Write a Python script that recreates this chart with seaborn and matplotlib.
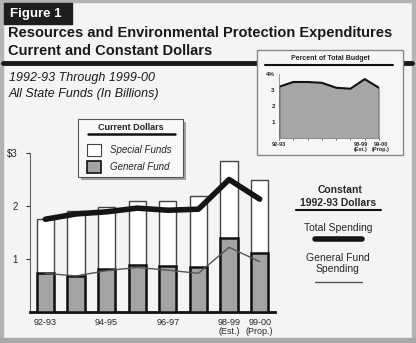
import matplotlib
matplotlib.use("Agg")
import matplotlib.pyplot as plt
import seaborn as sns
import pandas as pd
from matplotlib.patches import Rectangle
from matplotlib.lines import Line2D
from matplotlib.transforms import ScaledTranslation

sns.set_theme(style="white")
plt.rcParams['font.family'] = ['Liberation Sans', 'DejaVu Sans']

# ---- data ----
years = ["92-93", "93-94", "94-95", "95-96", "96-97", "97-98", "98-99", "99-00"]
tick_labels = ["92-93", "", "94-95", "", "96-97", "", "98-99\n(Est.)", "99-00\n(Prop.)"]
total_current = [1.75, 1.90, 1.99, 2.10, 2.10, 2.19, 2.85, 2.50]
general_current = [0.74, 0.68, 0.81, 0.89, 0.87, 0.84, 1.39, 1.11]
total_constant = [1.75, 1.85, 1.89, 1.96, 1.92, 1.94, 2.50, 2.13]
general_constant = [0.73, 0.68, 0.78, 0.84, 0.79, 0.73, 1.22, 0.95]
pct_budget = [3.2, 3.5, 3.5, 3.45, 3.14, 3.08, 3.68, 3.14]
inset_labels = ["92-93", "", "", "", "", "", "98-99\n(Est.)", "99-00\n(Prop.)"]

df = pd.DataFrame({"year": years, "total": total_current, "general": general_current,
                   "tot_c": total_constant, "gen_c": general_constant,
                   "pct": pct_budget, "pos": range(len(years))})

W, H = 416, 343
fig = plt.figure(figsize=(W / 100, H / 100), dpi=100)
fig.patch.set_facecolor("#f4f4f4")

def fx(x):
    return x / W

def fy(y):
    return 1 - y / H

# outer frame
fig.add_artist(Rectangle((0, 0), fx(3), 1, transform=fig.transFigure, color="#b4b4b4", zorder=0))
fig.add_artist(Rectangle((fx(412), 0), fx(4), 1, transform=fig.transFigure, color="#b4b4b4", zorder=0))
fig.add_artist(Rectangle((0, 0), 1, 5 / H, transform=fig.transFigure, color="#a8a8a8", zorder=0))
fig.add_artist(Rectangle((0, fy(2)), 1, 2 / H, transform=fig.transFigure, color="#b4b4b4", zorder=0))

# Figure 1 box
fig.add_artist(Rectangle((fx(4), fy(24)), fx(68), 21 / H, transform=fig.transFigure, color="#1e1e1e", zorder=1))
fig.text(fx(10), fy(14), "Figure 1", color="white", fontsize=9.5, fontweight="bold", va="center", ha="left")

# title
fig.text(fx(8), fy(33), "Resources and Environmental Protection Expenditures", fontsize=10.5,
         fontweight="bold", va="center", ha="left", color="#1a1a1a")
fig.text(fx(8), fy(51), "Current and Constant Dollars", fontsize=10.5,
         fontweight="bold", va="center", ha="left", color="#1a1a1a")
# thick rule
fig.add_artist(Line2D([fx(3), fx(412)], [fy(63), fy(63)], transform=fig.transFigure, color="#1a1a1a", lw=3.5, zorder=1))

# subtitles
fig.text(fx(9), fy(78), "1992-93 Through 1999-00", fontsize=9, style="italic", va="center", ha="left", color="#1a1a1a")
fig.text(fx(9), fy(94), "All State Funds (In Billions)", fontsize=9, style="italic", va="center", ha="left", color="#1a1a1a")

# ---- main axes ----
ax = fig.add_axes([fx(30), fy(312), fx(245), 159 / H])
ax.set_facecolor("none")
sns.barplot(data=df, x="pos", y="total", color="white", edgecolor="#444444", linewidth=1.0,
            width=0.56, ax=ax, order=list(range(len(years))), native_scale=True, zorder=2)
sns.barplot(data=df, x="pos", y="general", color="#a3a3a3", edgecolor="#111111", linewidth=1.8,
            width=0.56, ax=ax, order=list(range(len(years))), native_scale=True, zorder=3)
sns.lineplot(data=df, x="pos", y="tot_c", color="#151515", lw=4, ax=ax, zorder=5)
sns.lineplot(data=df, x="pos", y="gen_c", color="#555555", lw=1.0, ax=ax, zorder=5)
ax.set_xlim(-0.5, 7.5)
ax.set_ylim(0, 3)
ax.set_xticks(range(len(years)))
ax.set_xticklabels(tick_labels, fontsize=6.5, linespacing=1.1)
ax.set_yticks([1, 2, 3])
ax.set_yticklabels(["1", "2", "\\$3"], fontsize=7)
ax.tick_params(axis="y", length=3, width=0.8, color="#333333", pad=6, left=True)
ax.tick_params(axis="x", length=0, pad=4)
ax.set_xlabel("")
ax.set_ylabel("")
for s in ["top", "right"]:
    ax.spines[s].set_visible(False)
ax.spines["left"].set_color("#666666")
ax.spines["left"].set_linewidth(0.8)
ax.spines["bottom"].set_color("#111111")
ax.spines["bottom"].set_linewidth(2)

# ---- Current Dollars legend ----
fig.add_artist(Rectangle((fx(81), fy(180)), fx(105), 58 / H, transform=fig.transFigure,
                         facecolor="#a0a0a0", edgecolor="none", zorder=6))
fig.add_artist(Rectangle((fx(78), fy(177)), fx(105), 58 / H, transform=fig.transFigure,
                         facecolor="#f8f8f8", edgecolor="#555555", lw=0.8, zorder=7))
fig.text(fx(131), fy(127), "Current Dollars", fontsize=6.5, fontweight="bold", ha="center", va="center", zorder=8)
fig.add_artist(Line2D([fx(88), fx(175)], [fy(134), fy(134)], transform=fig.transFigure, color="#111111", lw=1.8, zorder=8))
fig.add_artist(Rectangle((fx(87), fy(156)), fx(14), 12 / H, transform=fig.transFigure,
                         facecolor="white", edgecolor="#444444", lw=0.8, zorder=8))
fig.add_artist(Rectangle((fx(87), fy(173)), fx(14), 12 / H, transform=fig.transFigure,
                         facecolor="#a3a3a3", edgecolor="#111111", lw=1.2, zorder=8))
fig.text(fx(110), fy(150), "Special Funds", fontsize=7, style="italic", ha="left", va="center", zorder=8)
fig.text(fx(110), fy(167), "General Fund", fontsize=7, style="italic", ha="left", va="center", zorder=8)

# ---- Constant dollars legend ----
fig.text(fx(340), fy(190), "Constant", fontsize=7.5, fontweight="bold", ha="center", va="center")
fig.text(fx(338), fy(203), "1992-93 Dollars", fontsize=7.5, fontweight="bold", ha="center", va="center")
fig.add_artist(Line2D([fx(296), fx(381)], [fy(210), fy(210)], transform=fig.transFigure, color="#111111", lw=1.5))
fig.text(fx(338), fy(228), "Total Spending", fontsize=7.5, ha="center", va="center")
fig.add_artist(Line2D([fx(315), fx(362)], [fy(239), fy(239)], transform=fig.transFigure, color="#151515", lw=4))
fig.text(fx(338), fy(258), "General Fund", fontsize=7.5, ha="center", va="center")
fig.text(fx(338), fy(269), "Spending", fontsize=7.5, ha="center", va="center")
fig.add_artist(Line2D([fx(315), fx(362)], [fy(282), fy(282)], transform=fig.transFigure, color="#555555", lw=1.0))

# ---- inset ----
fig.add_artist(Rectangle((fx(257), fy(155)), fx(146), 105 / H, transform=fig.transFigure,
                         facecolor="#f6f6f6", edgecolor="#888888", lw=1.0, zorder=3))
fig.text(fx(330), fy(58), "Percent of Total Budget", fontsize=5, fontweight="bold", ha="center", va="center", zorder=4)
fig.add_artist(Line2D([fx(265), fx(393)], [fy(65), fy(65)], transform=fig.transFigure, color="#111111", lw=1.5, zorder=4))

ax2 = fig.add_axes([fx(279), fy(138), fx(100), 64 / H], zorder=5)
ax2.set_facecolor("none")
ax2.fill_between(df["pos"], 0, df["pct"], color="#a6a6a6", zorder=1)
sns.lineplot(data=df, x="pos", y="pct", color="#111111", lw=1.5, ax=ax2, zorder=2)
ax2.set_xlim(0, 7)
ax2.set_ylim(0, 4)
ax2.set_xticks(range(len(years)))
ax2.set_xticklabels(inset_labels, fontsize=4, fontweight="bold", linespacing=1.0)
ax2.set_yticks([1, 2, 3, 4])
ax2.set_yticklabels(["1", "2", "3", "4%"], fontsize=4.5, fontweight="bold")
ax2.tick_params(axis="both", length=1.5, width=0.5, pad=1.5, left=False, bottom=True)
xt = ax2.get_xticklabels()
xt[6].set_transform(xt[6].get_transform() + ScaledTranslation(-4 / 100, 0, fig.dpi_scale_trans))
xt[7].set_transform(xt[7].get_transform() + ScaledTranslation(2 / 100, 0, fig.dpi_scale_trans))
ax2.set_xlabel("")
ax2.set_ylabel("")
for s in ["top", "right"]:
    ax2.spines[s].set_visible(False)
ax2.spines["left"].set_color("#888888")
ax2.spines["left"].set_linewidth(0.6)
ax2.spines["bottom"].set_color("#888888")
ax2.spines["bottom"].set_linewidth(0.6)
for s in ["left", "bottom"]:
    ax2.spines[s].set_zorder(3)
ax2.plot([7, 7], [0, pct_budget[-1]], color="#111111", lw=1.0, zorder=3)
ax2.plot([0, 0], [0, pct_budget[0]], color="#111111", lw=1.0, zorder=3)

fig.savefig("out.png", dpi=100, facecolor=fig.get_facecolor())
